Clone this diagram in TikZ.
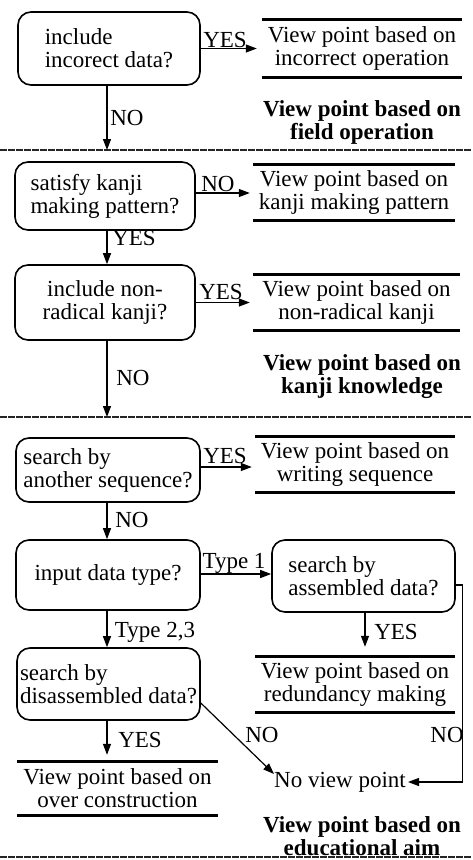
\documentclass[tikz,border=0pt]{standalone}
\usepackage{fontspec}
\setmainfont{Liberation Serif}
\usetikzlibrary{arrows.meta}
\begin{document}
\begin{tikzpicture}[x=1pt,y=-1pt,
  txt/.style={font=\fontsize{23}{23}\selectfont, inner sep=0pt},
  qbox/.style={txt, draw, rounded corners=13pt, line width=1.6pt, align=left},
  qboxc/.style={qbox, align=center},
  outc/.style={txt, align=center},
  head/.style={font=\fontsize{23}{23}\selectfont\bfseries, inner sep=0pt, align=center},
  lab/.style={txt},
  arr/.style={line width=1.2pt, -{Triangle[length=11pt,width=8pt]}},
  rule/.style={line width=2.8pt},
  sep/.style={line width=1.6pt, black!85, dash pattern=on 7pt off 1pt}
]
\useasboundingbox (0,0) rectangle (472,860);

% separators
\coordinate (d1l) at (0,150);   \coordinate (d1r) at (472,150);
\coordinate (d2l) at (0,417);   \coordinate (d2r) at (472,417);
\coordinate (d3l) at (0,857);   \coordinate (d3r) at (472,857);
\draw[sep] (d1l) -- (d1r);
\draw[sep] (d2l) -- (d2r);
\draw[sep] (d3l) -- (d3r);

% question boxes
\node[qbox, minimum width=182, minimum height=73] (b1) at (109,48.5) {include\\incorect data?};
\node[qbox, minimum width=180, minimum height=68] (b2) at (105,196) {satisfy kanji\\making pattern?};
\node[qboxc, minimum width=180, minimum height=75] (b3) at (105,302.5) {include non-\\radical kanji?};
\node[qbox, minimum width=184, minimum height=64] (b4) at (108,470) {search by\\another sequence?};
\node[qboxc, minimum width=184, minimum height=70] (b5) at (108,575) {input data type?};
\node[qbox, minimum width=183, minimum height=72] (b6) at (363.5,576) {search by\\assembled data?};
\node[qbox, minimum width=183, minimum height=72] (b7) at (108.5,684) {search by\\disassembled data?};

% outcomes
\node[outc, minimum width=200, minimum height=57] (o1) at (362,48.5) {View point based on\\incorrect operation};
\node[outc, minimum width=202, minimum height=55] (o2) at (354,192.5) {View point based on\\kanji making pattern};
\node[outc, minimum width=207, minimum height=55] (o3) at (356.5,302.5) {View point based on\\non-radical kanji};
\node[outc, minimum width=200, minimum height=55] (o4) at (355,464.5) {View point based on\\writing sequence};
\node[outc, minimum width=200, minimum height=55] (o5) at (355,684.5) {View point based on\\redundancy making};
\node[outc, minimum width=201, minimum height=53] (o6) at (117.5,788.5) {View point based on\\over construction};
\foreach \o in {o1,o2,o3,o4,o5,o6}
  \draw[rule] (\o.north west) -- (\o.north east) (\o.south west) -- (\o.south east);

\node[txt, inner sep=2pt] (nv) at (340,782) {No view point};

% headings
\node[head] (h1) at (362,122) {View point based on\\field operation};
\node[head] (h2) at (362,377) {View point based on\\kanji knowledge};
\node[head] (h3) at (362,836) {View point based on\\educational aim};

% connectors
\draw[arr, shorten >=5pt] (b1.east) -- (o1.west);
\draw[arr] (b1.south -| 107,0) -- (d1l -| 107,0);
\draw[arr, shorten >=3pt] (b2.east |- 0,193) -- (o2.west |- 0,193);
\draw[arr] (b2.south -| 107,0) -- (b3.north -| 107,0);
\draw[arr, shorten >=3pt] (b3.east) -- (o3.west);
\draw[arr] (b3.south -| 107,0) -- (d2l -| 107,0);
\draw[arr, shorten >=3pt] (b4.east |- 0,467) -- (o4.west |- 0,467);
\draw[arr] (b4.south -| 107,0) -- (b5.north -| 107,0);
\draw[arr] (b5.east |- 0,574) -- (b6.west |- 0,574);
\draw[arr, shorten >=10pt] (b6.south -| 365,0) -- (o5.north -| 365,0);
\draw[arr] (b5.south -| 107,0) -- (b7.north -| 107,0);
\draw[arr, shorten >=7pt] (b7.south -| 107,0) -- (o6.north -| 107,0);
\draw[arr] ([yshift=-19pt]b7.east) -- ([yshift=8pt,xshift=2pt]nv.west);
\draw[arr] ([yshift=-9pt]b6.east) -- ++(7,0) |- (nv.east);

% labels
\node[lab] (l1) at (225,40) {YES};
\node[lab] (l2) at (127,118) {NO};
\node[lab] (l3) at (218,184) {NO};
\node[lab] (l4) at (134,238) {YES};
\node[lab] (l5) at (221,292) {YES};
\node[lab] (l6) at (133,378) {NO};
\node[lab] (l7) at (225,456) {YES};
\node[lab] (l8) at (132,520) {NO};
\node[lab] (l9) at (234,563) {Type 1};
\node[lab] (l10) at (396,632) {YES};
\node[lab] (l11) at (155,632) {Type 2,3};
\node[lab] (l12) at (262,735) {NO};
\node[lab] (l13) at (447,735) {NO};
\node[lab] (l14) at (140,740) {YES};
\end{tikzpicture}
\end{document}
